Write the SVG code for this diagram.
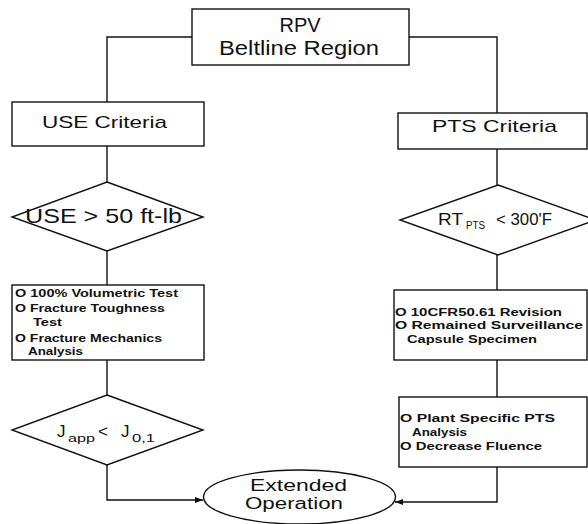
<svg xmlns="http://www.w3.org/2000/svg" width="588" height="524" viewBox="0 0 588 524">
<style>
.shape{fill:#fff;stroke:#111;stroke-width:1.4}
.conn{fill:none;stroke:#111;stroke-width:1.4}
text{font-family:"Liberation Sans",Arial,sans-serif;fill:#111}
.lbl{font-size:20px}
.mid{font-size:17px}
.lst{font-size:11px;font-weight:bold}
</style>
<defs>
<marker id="arr" markerWidth="8" markerHeight="6" refX="8" refY="3" orient="auto" markerUnits="userSpaceOnUse">
<path d="M0,0 L8,3 L0,6 Z" fill="#111"/>
</marker>
</defs>
<rect width="588" height="524" fill="#fff"/>
<g id="connectors">
<path class="conn" d="M192,37 H107 V102"/>
<path class="conn" d="M409,37 H497 V113"/>
<path class="conn" d="M107,146 V182"/>
<path class="conn" d="M497,149 V185"/>
<path class="conn" d="M107,251 V285"/>
<path class="conn" d="M497,255 V290"/>
<path class="conn" d="M107,360 V395"/>
<path class="conn" d="M497,360 V397"/>
<path class="conn" d="M107,465 V500 H203" marker-end="url(#arr)"/>
<path class="conn" d="M497,467 V502 H395" marker-end="url(#arr)"/>
</g>
<g id="rpv">
<rect class="shape" x="192" y="9" width="217" height="56"/>
<text class="lbl" x="300" y="32" text-anchor="middle">RPV</text>
<text class="lbl" x="219" y="55" textLength="160" lengthAdjust="spacingAndGlyphs">Beltline Region</text>
</g>
<g id="use-criteria">
<rect class="shape" x="12" y="102" width="192" height="44"/>
<text class="mid" x="42" y="128" textLength="125" lengthAdjust="spacingAndGlyphs">USE Criteria</text>
</g>
<g id="pts-criteria">
<rect class="shape" x="398" y="113" width="189" height="36"/>
<text class="mid" x="432" y="132" textLength="125" lengthAdjust="spacingAndGlyphs">PTS Criteria</text>
</g>
<g id="use-decision">
<polygon class="shape" points="107,182 203,217 107,251 12,217"/>
<text x="25" y="223" font-size="21" textLength="157" lengthAdjust="spacingAndGlyphs">USE &gt; 50 ft-lb</text>
</g>
<g id="pts-decision">
<polygon class="shape" points="498,185 596,220 498,255 400,220"/>
<text class="mid"><tspan x="438" y="225" textLength="25" lengthAdjust="spacingAndGlyphs">RT</tspan><tspan x="466" y="229" font-size="10" textLength="19" lengthAdjust="spacingAndGlyphs">PTS</tspan><tspan x="496" y="225" textLength="56" lengthAdjust="spacingAndGlyphs">&lt; 300'F</tspan></text>
</g>
<g id="use-actions">
<rect class="shape" x="12" y="285" width="192" height="75"/>
<text class="lst" x="15" y="297" textLength="163" lengthAdjust="spacingAndGlyphs">O 100% Volumetric Test</text>
<text class="lst" x="15" y="312" textLength="150" lengthAdjust="spacingAndGlyphs">O Fracture Toughness</text>
<text class="lst" x="33" y="326" textLength="29" lengthAdjust="spacingAndGlyphs">Test</text>
<text class="lst" x="15" y="342" textLength="147" lengthAdjust="spacingAndGlyphs">O Fracture Mechanics</text>
<text class="lst" x="28" y="355" textLength="55" lengthAdjust="spacingAndGlyphs">Analysis</text>
</g>
<g id="pts-actions-1">
<rect class="shape" x="394" y="290" width="193" height="70"/>
<text class="lst" x="395" y="316" textLength="167" lengthAdjust="spacingAndGlyphs">O 10CFR50.61 Revision</text>
<text class="lst" x="395" y="329" textLength="188" lengthAdjust="spacingAndGlyphs">O Remained Surveillance</text>
<text class="lst" x="407" y="343" textLength="130" lengthAdjust="spacingAndGlyphs">Capsule Specimen</text>
</g>
<g id="j-decision">
<polygon class="shape" points="107,395 203,430 107,465 12,430"/>
<text class="mid"><tspan x="57" y="437">J</tspan><tspan x="68" y="442" font-size="11" textLength="27" lengthAdjust="spacingAndGlyphs">app</tspan><tspan x="98" y="437">&lt;</tspan><tspan x="121" y="437">J</tspan><tspan x="132" y="442" font-size="11" textLength="23" lengthAdjust="spacingAndGlyphs">0,1</tspan></text>
</g>
<g id="pts-actions-2">
<rect class="shape" x="399" y="397" width="188" height="70"/>
<text class="lst" x="400" y="422" textLength="155" lengthAdjust="spacingAndGlyphs">O Plant Specific PTS</text>
<text class="lst" x="412" y="436" textLength="55" lengthAdjust="spacingAndGlyphs">Analysis</text>
<text class="lst" x="400" y="450" textLength="142" lengthAdjust="spacingAndGlyphs">O Decrease Fluence</text>
</g>
<g id="extended-operation">
<ellipse class="shape" cx="299.5" cy="497" rx="96" ry="27"/>
<text x="250" y="491" font-size="16" textLength="97" lengthAdjust="spacingAndGlyphs">Extended</text>
<text x="245" y="509" font-size="16" textLength="98" lengthAdjust="spacingAndGlyphs">Operation</text>
</g>
</svg>
